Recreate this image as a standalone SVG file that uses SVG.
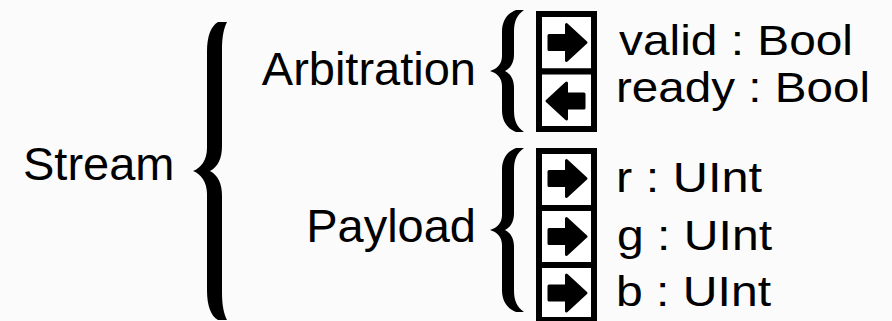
<svg xmlns="http://www.w3.org/2000/svg" xmlns:xlink="http://www.w3.org/1999/xlink" width="892" height="321" viewBox="0 0 892 321">
  <style>
    .t { font-family: "Liberation Sans", Arial, sans-serif; font-size: 47px; fill: #000; }
    .f { font-family: "Liberation Sans", Arial, sans-serif; font-size: 42px; fill: #000; }
    .cell { fill: #fff; stroke: #000; stroke-width: 6; }
    .brace { fill: #000; }
    .arr { fill: #000; stroke: #000; stroke-width: 3; stroke-linejoin: round; }
  </style>
  <defs>
    <path id="arrR" class="arr" d="M -17.5 -7 H 0 V -18 L 19.5 0 L 0 18 V 7 H -17.5 Z"/>
    <path id="arrL" class="arr" d="M 17.5 -7 H 0 V -18 L -19.5 0 L 0 18 V 7 H 17.5 Z"/>
  </defs>
  <rect x="0" y="0" width="892" height="321" fill="#fbfbfb"/>

  <g id="connectors">
    <path id="brace-stream" class="brace" d="M 218 22 C 211 26, 207 36, 207 52 L 207 148 C 207 160, 201 168, 193 171 C 201 174, 207 182, 207 194 L 207 290 C 207 306, 211 316, 218 320 L 227 320 C 224 314, 222 306, 222 292 L 222 196 C 222 184, 218 175, 210 171 C 218 167, 222 158, 222 146 L 222 50 C 222 36, 224 28, 227 22 Z"/>
    <path id="brace-arb" class="brace" d="M 516 10 C 508 13, 502 20, 502 32 L 502 56 C 502 64, 497 69, 490 71 C 497 73, 502 78, 502 86 L 502 110 C 502 122, 508 129, 516 132 L 524 132 C 517 127, 514 121, 514 110 L 514 88 C 514 80, 511 74, 505 71 C 511 68, 514 62, 514 54 L 514 32 C 514 21, 517 15, 524 10 Z"/>
    <path id="brace-pay" class="brace" d="M 516 148 C 508 151, 502 158, 502 170 L 502 215 C 502 223, 497 228, 490 230 C 497 232, 502 237, 502 245 L 502 290 C 502 302, 508 309, 516 312 L 524 312 C 517 307, 514 301, 514 290 L 514 247 C 514 239, 511 233, 505 230 C 511 227, 514 221, 514 213 L 514 170 C 514 159, 517 153, 524 148 Z"/>
  </g>

  <g id="stream">
    <text class="t" x="23" y="180">Stream</text>
  </g>
  <g id="arbitration">
    <text class="t" x="476" y="85" text-anchor="end">Arbitration</text>
  </g>
  <g id="payload">
    <text class="t" x="476" y="242" text-anchor="end">Payload</text>
  </g>

  <g id="valid">
    <rect class="cell" x="539" y="14" width="55" height="57.5"/>
    <use xlink:href="#arrR" href="#arrR" x="566.5" y="42.5"/>
    <text class="f" x="619" y="55" textLength="234" lengthAdjust="spacingAndGlyphs">valid : Bool</text>
  </g>
  <g id="ready">
    <rect class="cell" x="539" y="71.5" width="55" height="57.5"/>
    <use xlink:href="#arrL" href="#arrL" x="566.5" y="101"/>
    <text class="f" x="616" y="102" textLength="254" lengthAdjust="spacingAndGlyphs">ready : Bool</text>
  </g>
  <g id="r">
    <rect class="cell" x="539" y="151" width="55" height="57"/>
    <use xlink:href="#arrR" href="#arrR" x="566.5" y="178.5"/>
    <text class="f" x="616" y="192" textLength="146" lengthAdjust="spacingAndGlyphs">r : UInt</text>
  </g>
  <g id="g">
    <rect class="cell" x="539" y="208" width="55" height="57"/>
    <use xlink:href="#arrR" href="#arrR" x="566.5" y="236.5"/>
    <text class="f" x="617" y="250" textLength="155" lengthAdjust="spacingAndGlyphs">g : UInt</text>
  </g>
  <g id="b">
    <rect class="cell" x="539" y="265" width="55" height="55"/>
    <use xlink:href="#arrR" href="#arrR" x="566.5" y="293"/>
    <text class="f" x="616" y="306" textLength="155" lengthAdjust="spacingAndGlyphs">b : UInt</text>
  </g>
</svg>
